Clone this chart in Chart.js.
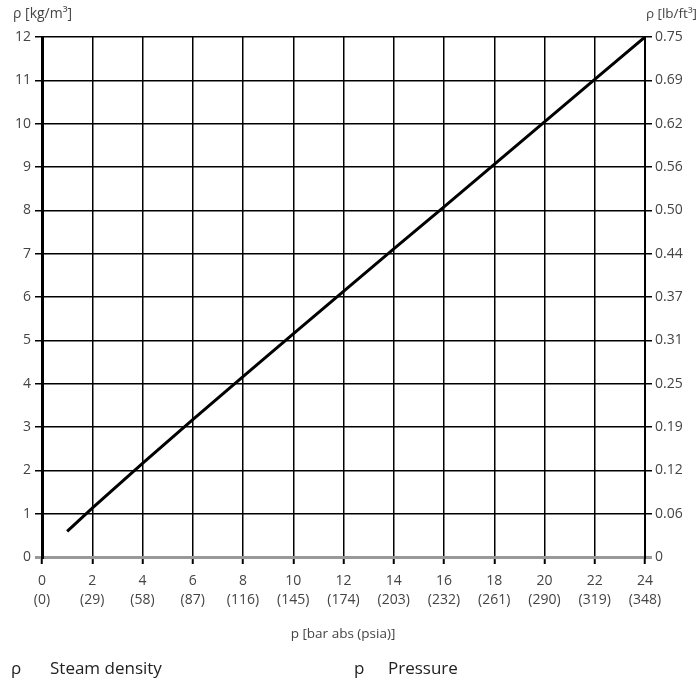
<!DOCTYPE html>
<html>
<head>
<meta charset="utf-8">
<script src="https://cdn.jsdelivr.net/npm/chart.js@4"></script>
<style>
  html, body { margin: 0; padding: 0; background: #fff; }
  #wrap { position: relative; width: 699px; height: 683px; overflow: hidden; font-family: "Open Sans", sans-serif; color: #444; }
  #c { position: absolute; left: 0; top: 0; }
  .t { position: absolute; white-space: nowrap; font-size: 14px; line-height: 18px; }
  .leg { position: absolute; white-space: nowrap; font-size: 17px; line-height: 22px; color: #222; }
</style>
</head>
<body>
<div id="wrap">
  <canvas id="c" width="699" height="683"></canvas>
  <div class="t" style="left:13px; top:4px;">ρ [kg/m³]</div>
  <div class="t" style="right:2px; top:4px; font-size:13.5px;">ρ [lb/ft³]</div>
  <div class="t" style="left:0; width:686px; text-align:center; top:624px; font-size:13.5px;">p [bar abs (psia)]</div>
  <div class="leg" style="left:11px; top:657px;">ρ</div>
  <div class="leg" style="left:50px; top:657px;">Steam density</div>
  <div class="leg" style="left:354px; top:657px;">p</div>
  <div class="leg" style="left:388px; top:657px;">Pressure</div>
</div>
<script>
const pressureBar = [1, 2, 4, 6, 8, 10, 12, 14, 16, 18, 20, 22, 24];
const densityKgM3 = [0.59, 1.13, 2.16, 3.17, 4.16, 5.15, 6.13, 7.11, 8.08, 9.06, 10.04, 11.02, 12.0];
const xTickBar = ['0', '2', '4', '6', '8', '10', '12', '14', '16', '18', '20', '22', '24'];
const xTickPsia = ['(0)', '(29)', '(58)', '(87)', '(116)', '(145)', '(174)', '(203)', '(232)', '(261)', '(290)', '(319)', '(348)'];
const yTickLbFt3 = ['0', '0.06', '0.12', '0.19', '0.25', '0.31', '0.37', '0.44', '0.50', '0.56', '0.62', '0.69', '0.75'];

const tickFont = { family: '"Open Sans", sans-serif', size: 14, lineHeight: 1.3 };
const xTickFont = { family: '"Open Sans", sans-serif', size: 14, lineHeight: 1.4 };
const tickColor = '#444';

new Chart(document.getElementById('c'), {
  type: 'line',
  data: {
    datasets: [{
      data: pressureBar.map((x, i) => ({ x: x, y: densityKgM3[i] })),
      borderColor: '#000',
      borderWidth: 3,
      pointRadius: 0,
      tension: 0,
      fill: false
    }]
  },
  options: {
    responsive: false,
    animation: false,
    events: [],
    layout: { padding: { top: 37, left: 0, right: 0, bottom: 0 } },
    plugins: { legend: { display: false }, tooltip: { enabled: false } },
    scales: {
      x: {
        type: 'linear', min: 0, max: 24,
        afterFit: s => { s.height = 126; },
        ticks: {
          stepSize: 2, color: tickColor, font: xTickFont, padding: 7, maxRotation: 0,
          callback: (v) => { const i = Math.round(v / 2); return [xTickBar[i], xTickPsia[i]]; }
        },
        grid: { color: '#000', lineWidth: 1.5, tickLength: 7, tickColor: '#000', tickWidth: 2 },
        border: { color: '#999', width: 3 }
      },
      y: {
        type: 'linear', position: 'left', min: 0, max: 12,
        afterFit: s => { s.width = 42; },
        ticks: { stepSize: 1, color: tickColor, font: tickFont, padding: 4 },
        grid: {
          color: c => (c.tick && c.tick.value === 0) ? '#999' : '#000',
          lineWidth: c => (c.tick && c.tick.value === 0) ? 3 : 1.5,
          tickLength: 7
        },
        border: { color: '#000', width: 3 }
      },
      y2: {
        type: 'linear', position: 'right', min: 0, max: 12,
        afterFit: s => { s.width = 54; },
        ticks: {
          stepSize: 1, color: tickColor, font: tickFont, padding: 3,
          callback: (v) => yTickLbFt3[Math.round(v)]
        },
        grid: {
          drawOnChartArea: false,
          color: c => (c.tick && c.tick.value === 0) ? '#999' : '#000',
          lineWidth: c => (c.tick && c.tick.value === 0) ? 3 : 1.5,
          tickLength: 7
        },
        border: { color: '#000', width: 2 }
      }
    }
  }
});
</script>
</body>
</html>
